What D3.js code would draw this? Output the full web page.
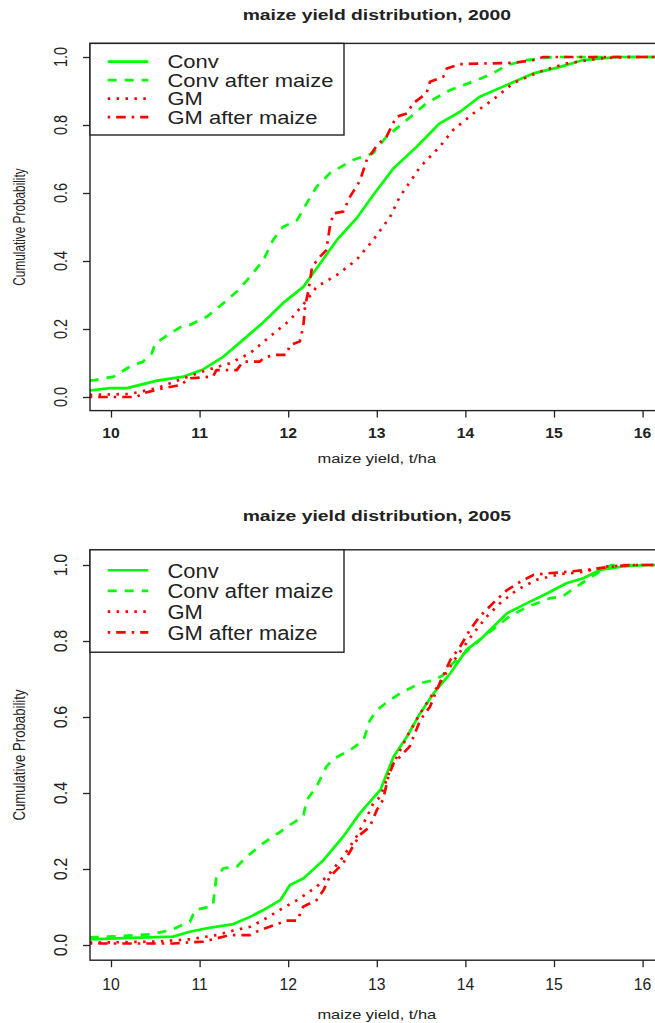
<!DOCTYPE html>
<html>
<head>
<meta charset="utf-8">
<script src="https://d3js.org/d3.v7.min.js"></script>
<style>
body { margin: 0; background: #fff; }
svg { display: block; font-family: "Liberation Sans", Arial, sans-serif; }
</style>
</head>
<body>
<svg id="chart" width="655" height="1023"></svg>
<script>
// ecdf curves: [yield t/ha, cumulative probability]
var conv2000 = [[9.76,0.019],[9.99,0.026],[10.18,0.026],[10.52,0.048],[10.82,0.06],[11.04,0.081],[11.27,0.119],[11.49,0.168],[11.72,0.22],[11.94,0.276],[12.17,0.324],[12.32,0.378],[12.55,0.462],[12.77,0.525],[12.96,0.594],[13.19,0.673],[13.45,0.736],[13.71,0.805],[13.94,0.839],[14.16,0.883],[14.47,0.918],[14.77,0.952],[15.07,0.971],[15.33,0.991],[15.71,1.0],[16.3,1.0]];
var convAfter2000 = [[9.76,0.048],[9.82,0.05],[10.03,0.06],[10.21,0.089],[10.36,0.104],[10.46,0.128],[10.5,0.158],[10.67,0.187],[10.78,0.205],[10.89,0.212],[11.08,0.236],[11.27,0.276],[11.42,0.31],[11.57,0.354],[11.72,0.403],[11.83,0.462],[11.94,0.5],[12.1,0.52],[12.21,0.57],[12.32,0.618],[12.47,0.658],[12.73,0.697],[12.96,0.717],[13.11,0.766],[13.34,0.815],[13.56,0.864],[13.83,0.903],[14.13,0.932],[14.31,0.952],[14.47,0.976],[14.69,0.991],[14.99,1.0],[16.3,1.0]];
var gm2000 = [[9.76,0.006],[10.21,0.009],[10.52,0.026],[10.82,0.055],[11.08,0.079],[11.34,0.099],[11.57,0.129],[11.79,0.177],[12.02,0.226],[12.21,0.285],[12.32,0.324],[12.55,0.359],[12.77,0.403],[12.96,0.462],[13.15,0.53],[13.26,0.589],[13.49,0.677],[13.71,0.736],[13.86,0.785],[14.09,0.834],[14.31,0.874],[14.54,0.923],[14.84,0.957],[15.14,0.981],[15.52,0.996],[15.82,1.0],[16.3,1.0]];
var gmAfter2000 = [[9.76,0],[10.29,0],[10.36,0.011],[10.59,0.026],[10.78,0.035],[10.89,0.055],[11.15,0.06],[11.19,0.079],[11.42,0.079],[11.49,0.104],[11.68,0.104],[11.72,0.114],[11.83,0.124],[11.98,0.124],[12.02,0.153],[12.13,0.163],[12.17,0.207],[12.19,0.266],[12.23,0.315],[12.27,0.383],[12.36,0.413],[12.43,0.432],[12.47,0.5],[12.51,0.54],[12.62,0.545],[12.7,0.59],[12.81,0.636],[12.89,0.7],[12.95,0.72],[13.0,0.74],[13.11,0.766],[13.22,0.824],[13.34,0.834],[13.41,0.864],[13.56,0.893],[13.6,0.927],[13.75,0.942],[13.79,0.966],[13.94,0.979],[14.54,0.983],[14.77,0.991],[14.88,1.0],[16.3,1.0]];

var conv2005 = [[9.76,0.015],[10.14,0.018],[10.7,0.022],[10.89,0.035],[11.08,0.044],[11.38,0.055],[11.57,0.074],[11.72,0.092],[11.91,0.118],[12.02,0.158],[12.17,0.175],[12.4,0.224],[12.62,0.285],[12.81,0.347],[13.04,0.408],[13.19,0.496],[13.34,0.548],[13.49,0.61],[13.64,0.662],[13.83,0.715],[14.01,0.776],[14.2,0.811],[14.47,0.873],[14.69,0.899],[14.92,0.925],[15.14,0.952],[15.33,0.965],[15.52,0.987],[15.78,0.996],[16.05,1.0],[16.3,1.0]];
var convAfter2005 = [[9.76,0.02],[10.14,0.024],[10.44,0.028],[10.67,0.039],[10.89,0.061],[10.95,0.092],[11.15,0.103],[11.19,0.18],[11.27,0.202],[11.42,0.206],[11.53,0.232],[11.72,0.268],[11.91,0.298],[12.02,0.316],[12.17,0.338],[12.21,0.382],[12.32,0.417],[12.43,0.469],[12.51,0.49],[12.7,0.513],[12.85,0.539],[12.92,0.59],[13.0,0.618],[13.11,0.638],[13.26,0.662],[13.49,0.689],[13.64,0.697],[13.75,0.71],[13.85,0.74],[14.0,0.77],[14.2,0.81],[14.5,0.865],[14.7,0.89],[14.95,0.912],[15.1,0.918],[15.3,0.95],[15.5,0.98],[15.65,1.0],[16.3,1.0]];
var gm2005 = [[9.76,0.006],[10.52,0.009],[10.89,0.015],[11.19,0.026],[11.38,0.038],[11.57,0.048],[11.72,0.066],[11.94,0.097],[12.1,0.118],[12.32,0.153],[12.47,0.189],[12.62,0.232],[12.77,0.285],[12.89,0.338],[12.96,0.373],[13.04,0.39],[13.15,0.46],[13.34,0.548],[13.49,0.61],[13.71,0.689],[13.9,0.759],[14.09,0.82],[14.24,0.864],[14.39,0.899],[14.58,0.934],[14.8,0.961],[15.07,0.976],[15.33,0.982],[15.59,0.996],[15.86,1.0],[16.3,1.0]];
var gmAfter2005 = [[9.76,0.004],[10.7,0.004],[11.04,0.009],[11.15,0.015],[11.34,0.026],[11.57,0.026],[11.64,0.035],[11.79,0.048],[11.98,0.064],[12.1,0.064],[12.17,0.101],[12.32,0.118],[12.4,0.145],[12.47,0.18],[12.62,0.215],[12.73,0.259],[12.81,0.29],[12.92,0.311],[13.0,0.355],[13.07,0.382],[13.13,0.443],[13.19,0.478],[13.37,0.522],[13.49,0.592],[13.6,0.627],[13.71,0.689],[13.83,0.75],[13.94,0.785],[14.05,0.829],[14.16,0.864],[14.31,0.899],[14.47,0.934],[14.62,0.956],[14.77,0.974],[14.92,0.978],[15.14,0.982],[15.37,0.987],[15.59,0.994],[15.86,1.0],[16.3,1.0]];

var seriesNames = ['Conv', 'Conv after maize', 'GM', 'GM after maize'];
var xTicks = [10, 11, 12, 13, 14, 15, 16];
var yTicks = [0, 0.2, 0.4, 0.6, 0.8, 1.0];

var seriesColors = ['#00ff00', '#00ff00', '#ff0000', '#ff0000'];
var seriesDash = [null, '9,8', '2.5,6.4', '2.5,6,9.5,6'];
var ink = '#222';

// horizontal text in the picture is wider than it is tall, so stretch it
function stretch_text(g, txt, x, y, size, sx, sy, rotate) {
    return g.append('text')
        .attr('transform', 'translate(' + x + ',' + y + ') scale(' + sx + ',' + sy + ')' + (rotate ? ' rotate(-90)' : ''))
        .attr('font-size', size)
        .attr('fill', ink)
        .text(txt);
}

function draw_panel(svg, cfg, idx) {
    var left = 90, right = 663.6;
    var xs = d3.scaleLinear().domain([9.763, 16.237]).range([left, right]);
    var ys = d3.scaleLinear().domain([-0.04, 1.04]).range([cfg.bottom, cfg.top]);
    var sy = cfg.sy;
    var g = svg.append('g');

    g.append('clipPath').attr('id', 'clip' + idx)
        .append('rect')
        .attr('x', left).attr('y', cfg.top)
        .attr('width', right - left).attr('height', cfg.bottom - cfg.top);

    // title
    stretch_text(g, cfg.title, (left + right) / 2, cfg.titleY, 14, 1.38, 1)
        .attr('text-anchor', 'middle')
        .attr('font-weight', 'bold');

    // x axis
    var xa = g.append('g')
        .attr('transform', 'translate(0,' + cfg.bottom + ')')
        .call(d3.axisBottom(xs).tickValues(xTicks).tickSize(7).tickSizeOuter(0).tickFormat(d3.format('d')));
    xa.select('.domain').remove();
    xa.selectAll('line').attr('stroke', ink).attr('stroke-width', 1.3);
    xa.selectAll('text').remove();
    xTicks.forEach(function (t) {
        stretch_text(xa, t, xs(t), cfg.tickY, 15, 1.05, sy)
            .attr('text-anchor', 'middle')
            .attr('font-weight', cfg.boldTicks ? 'bold' : 'normal');
    });

    // y axis
    var ya = g.append('g')
        .attr('transform', 'translate(' + left + ',0)')
        .call(d3.axisLeft(ys).tickValues(yTicks).tickSize(7).tickSizeOuter(0));
    ya.select('.domain').remove();
    ya.selectAll('line').attr('stroke', ink).attr('stroke-width', 1.3);
    ya.selectAll('text').remove();
    yTicks.forEach(function (t) {
        stretch_text(ya, t.toFixed(1), -23.5, ys(t), 14.5, 1.25, sy, true)
            .attr('text-anchor', 'middle');
    });

    // axis titles
    stretch_text(g, 'Cumulative Probability', 25, (cfg.top + cfg.bottom) / 2, 11.8, 1.36, sy, true)
        .attr('text-anchor', 'middle');
    stretch_text(g, 'maize yield, t/ha', (left + right) / 2, cfg.xlabY, 12, 1.37, sy)
        .attr('text-anchor', 'middle');

    // ecdf curves
    var line = d3.line()
        .x(function (d) { return xs(d[0]); })
        .y(function (d) { return ys(d[1]); });
    g.append('g').attr('clip-path', 'url(#clip' + idx + ')')
        .selectAll('path').data(cfg.series).enter().append('path')
        .attr('d', line)
        .attr('fill', 'none')
        .attr('stroke', function (d, i) { return seriesColors[i]; })
        .attr('stroke-width', 2.7)
        .attr('stroke-linejoin', 'round')
        .attr('stroke-dasharray', function (d, i) { return seriesDash[i]; });

    // frame
    g.append('rect')
        .attr('x', left).attr('y', cfg.top)
        .attr('width', right - left).attr('height', cfg.bottom - cfg.top)
        .attr('fill', 'none').attr('stroke', ink).attr('stroke-width', 1.4);

    // legend
    var lg = g.append('g');
    lg.append('rect')
        .attr('x', left).attr('y', cfg.top)
        .attr('width', 254).attr('height', 91.6 * sy)
        .attr('fill', '#fff').attr('stroke', ink).attr('stroke-width', 1.4);
    seriesNames.forEach(function (name, i) {
        var yy = cfg.top + 18.3 * sy + i * 18.5 * sy;
        lg.append('line')
            .attr('x1', 107.7).attr('x2', 148.3)
            .attr('y1', yy).attr('y2', yy)
            .attr('stroke', seriesColors[i])
            .attr('stroke-width', 2.7)
            .attr('stroke-dasharray', seriesDash[i]);
        stretch_text(lg, name, 167.5, yy + 6.5 * sy, 18, 1.22, sy);
    });
}

var svg = d3.select('#chart');

draw_panel(svg, {
    title: 'maize yield distribution, 2000',
    series: [conv2000, convAfter2000, gm2000, gmAfter2000],
    top: 43.4, bottom: 410.6, sy: 1,
    titleY: 20, tickY: 27, xlabY: 463, boldTicks: true
}, 0);

draw_panel(svg, {
    title: 'maize yield distribution, 2005',
    series: [conv2005, convAfter2005, gm2005, gmAfter2005],
    top: 549.8, bottom: 960.2, sy: 1.118,
    titleY: 521, tickY: 30, xlabY: 1019, boldTicks: false
}, 1);
</script>
</body>
</html>
